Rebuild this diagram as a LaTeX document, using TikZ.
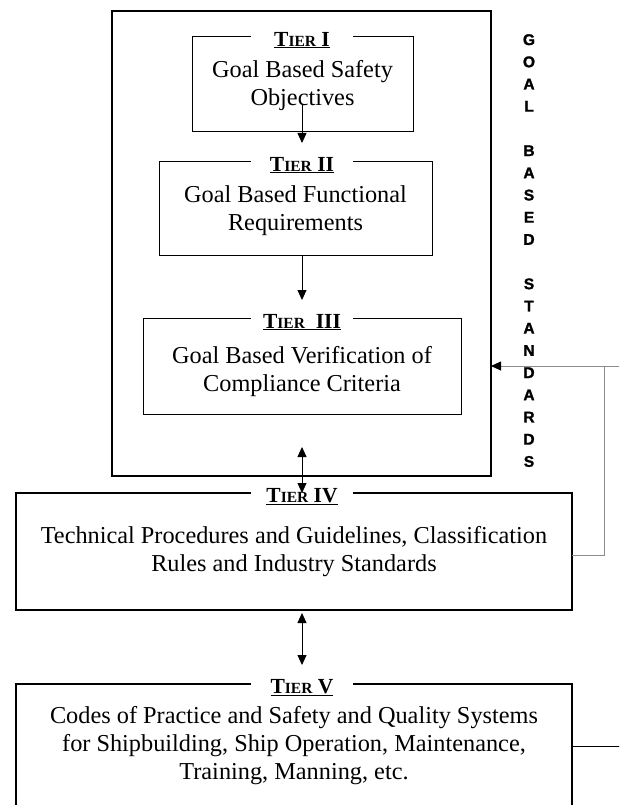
\documentclass[tikz,border=0pt]{standalone}
\usepackage{fontspec}
\setmainfont{Liberation Serif}
\newfontfamily\colfont[BoldFeatures={FakeBold=1.5}]{Liberation Sans}
\usetikzlibrary{arrows.meta}

\newcommand{\tiername}[1]{\underline{\bfseries\fontsize{21.5}{21.5}\selectfont T\fontsize{15.5}{16}\selectfont IER\fontsize{21.5}{21.5}\selectfont\ #1}}
\newcommand{\dropline}[1]{\rule{0pt}{#1}}

\tikzset{
    tierbox/.style={draw, line width=0.8pt, align=center, inner sep=0pt, outer sep=0pt,
        font=\fontsize{24.3}{28}\selectfont},
    heavybox/.style={tierbox, line width=1.5pt},
    tiertitle/.style={fill=white, minimum width=102pt, inner sep=2pt, yshift=-4pt},
    arr/.style={-{Triangle[length=10pt,width=9pt]}, line width=0.8pt},
    dblarr/.style={{Triangle[length=10pt,width=9pt]}-{Triangle[length=10pt,width=9pt]}, line width=0.8pt},
    fbline/.style={line width=0.9pt, black!45}
}

\begin{document}
\begin{tikzpicture}[x=1pt, y=-1pt]
    \clip (0,0) rectangle (619,805);
    \fill[white] (0,0) rectangle (619,805);
    \coordinate (mid) at (302,0);

    % Goal based standards frame
    \node[heavybox, minimum width=379pt, minimum height=465pt] (gbs) at (301.5,243.5) {};
    \node[anchor=north, align=center, inner sep=0pt,
        font=\colfont\bfseries\fontsize{15.5}{22.2}\selectfont] (gbslabel) at (529,34)
        {G\\O\\A\\L\\~\\B\\A\\S\\E\\D\\~\\S\\T\\A\\N\\D\\A\\R\\D\\S};

    % Tiers I to III
    \node[tierbox, minimum width=221pt, minimum height=95pt] (t1) at (302.5,83.5)
        {\dropline{21pt}Goal Based Safety\\Objectives};
    \node[tierbox, minimum width=273pt, minimum height=94pt] (t2) at (295.5,208)
        {\dropline{23pt}Goal Based Functional\\Requirements};
    \node[tierbox, minimum width=318pt, minimum height=96pt] (t3) at (302,366)
        {\dropline{28pt}Goal Based Verification of\\Compliance Criteria};

    % Tiers IV and V
    \node[heavybox, minimum width=556pt, minimum height=117pt] (t4) at (294,551.5)
        {Technical Procedures and Guidelines, Classification\\Rules and Industry Standards};
    \node[heavybox, minimum width=556pt, minimum height=124pt] (t5) at (294,746)
        {Codes of Practice and Safety and Quality Systems\\for Shipbuilding, Ship Operation, Maintenance,\\Training, Manning, etc.};

    % Titles on the box edges
    \node[tiertitle] (t1title) at (t1.north -| mid) {\tiername{I}};
    \node[tiertitle] (t2title) at (t2.north -| mid) {\tiername{II}};
    \node[tiertitle] (t3title) at (t3.north -| mid) {\tiername{\ III}};
    \node[tiertitle] (t4title) at (t4.north -| mid) {\tiername{IV}};
    \node[tiertitle] (t5title) at (t5.north -| mid) {\tiername{V}};

    % Arrows between tiers
    \draw[arr, shorten <=-26pt, shorten >=18pt] (t1.south -| mid) -- (t2.north -| mid);
    \draw[arr, shorten >=18pt] (t2.south -| mid) -- (t3.north -| mid);
    \draw[dblarr, shorten <=-29pt] (gbs.south -| mid) -- (t4.north -| mid);
    \draw[dblarr, shorten <=3pt, shorten >=19pt] (t4.south -| mid) -- (t5.north -| mid);

    % Feedback lines on the right
    \coordinate (fb) at (625,366);
    \coordinate (rj) at (604,366);
    \draw[fbline, -{Triangle[length=10pt,width=9pt,color=black]}] (fb) -- (fb -| gbs.east);
    \draw[fbline] ([yshift=-3.5pt]t4.east) -| (rj);
    \draw[line width=0.8pt] (t5.east) -| (fb);
\end{tikzpicture}
\end{document}
